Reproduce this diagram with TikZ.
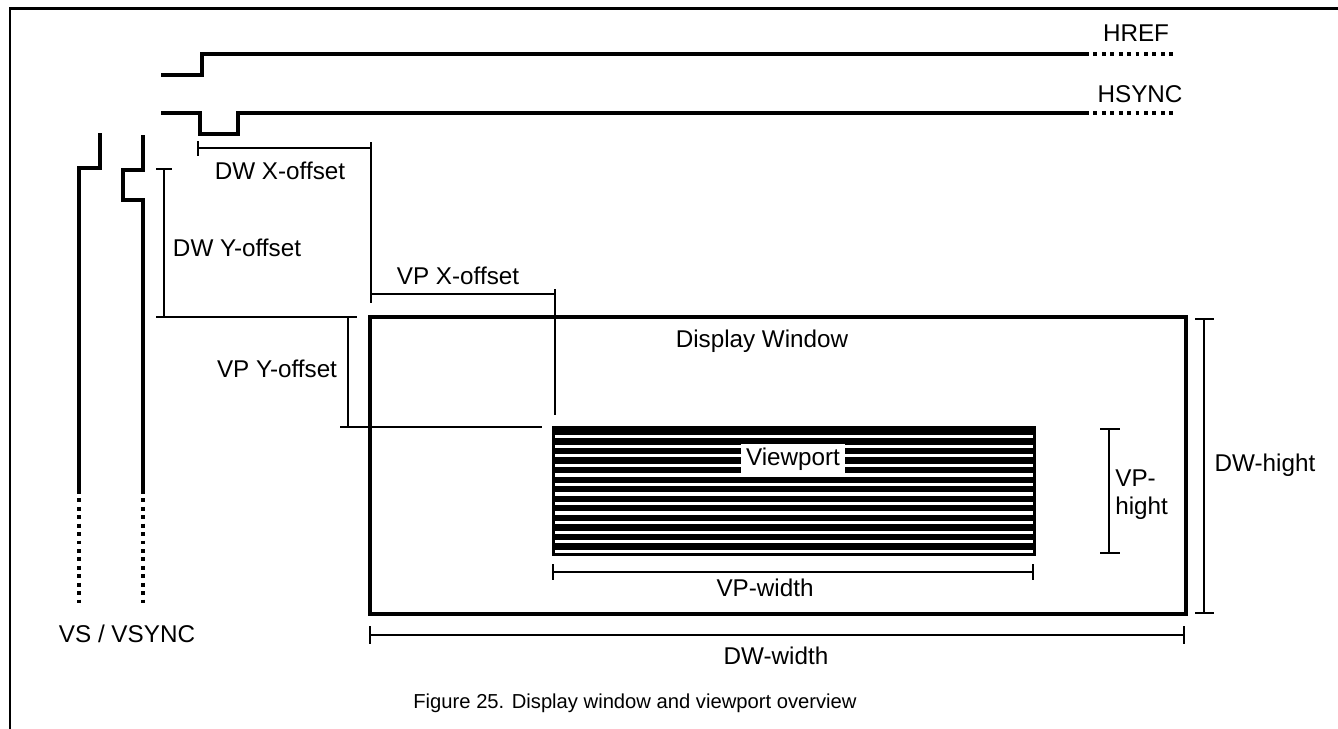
\documentclass[tikz,border=0pt]{standalone}
\usepackage{fontspec}
\setmainfont{Liberation Sans}
\begin{document}
\begin{tikzpicture}[x=0.02cm,y=-0.02cm,
  wave/.style={line width=1.9pt},
  dotline/.style={line width=1.9pt, dash pattern=on 2.2pt off 2.6pt},
  dimline/.style={line width=1.0pt},
  boxline/.style={line width=1.8pt},
  lbl/.style={font=\fontsize{13.8}{16}\selectfont, inner sep=0pt},
  captext/.style={font=\fontsize{11.5}{14}\selectfont, inner sep=0pt}]
\useasboundingbox (0,0) rectangle (1338,728);
\fill[white] (0,0) rectangle (1338,728);
% outer frame
\coordinate (frTR) at (1360,8);
\coordinate (frTL) at (10,8);
\coordinate (frBL) at (10,750);
\draw[line width=1.7pt] (frTR) -- (frTL) -- (frBL);
% HREF
\coordinate (hr0) at (161,75);
\coordinate (hr1) at (202,75);
\coordinate (hr2) at (202,54);
\coordinate (hr3) at (1085,54);
\coordinate (hr4) at (1175,54);
\draw[wave] (hr0) -- (hr1) -- (hr2) -- (hr3);
\draw[dotline] (hr3) -- (hr4);
\node[lbl] (href) at (1136,33) {HREF};
% HSYNC
\coordinate (hs0) at (161,113);
\coordinate (hs1) at (200,113);
\coordinate (hs2) at (200,134);
\coordinate (hs3) at (238,134);
\coordinate (hs4) at (238,113);
\coordinate (hs5) at (1085,113);
\coordinate (hs6) at (1175,113);
\draw[wave] (hs0) -- (hs1) -- (hs2) -- (hs3) -- (hs4) -- (hs5);
\draw[dotline] (hs5) -- (hs6);
\node[lbl] (hsync) at (1140,94) {HSYNC};
% VS
\coordinate (vs0) at (100,133);
\coordinate (vs1) at (100,168);
\coordinate (vs2) at (79,168);
\coordinate (vs3) at (79,490);
\coordinate (vs4) at (79,603);
\draw[wave] (vs0) -- (vs1) -- (vs2) -- (vs3);
\draw[dotline] (vs3) -- (vs4);
% VSYNC
\coordinate (vy0) at (143,135);
\coordinate (vy1) at (143,170);
\coordinate (vy2) at (123,170);
\coordinate (vy3) at (123,200);
\coordinate (vy4) at (143,200);
\coordinate (vy5) at (143,490);
\coordinate (vy6) at (143,603);
\draw[wave] (vy0) -- (vy1) -- (vy2) -- (vy3) -- (vy4) -- (vy5);
\draw[dotline] (vy5) -- (vy6);
\node[lbl] (vslbl) at (127,634) {VS / VSYNC};
% DW X-offset
\coordinate (dxA) at (198,148);
\coordinate (dxB) at (371,148);
\coordinate (dxAt) at (198,141);
\coordinate (dxAb) at (198,156);
\coordinate (dxBt) at (371,142);
\coordinate (dxBb) at (371,303);
\draw[dimline] (dxA) -- (dxB);
\draw[dimline] (dxAt) -- (dxAb);
\draw[dimline] (dxBt) -- (dxBb);
\node[lbl] (dwx) at (280,171) {DW X-offset};
% DW Y-offset
\coordinate (dyA) at (164,169);
\coordinate (dyB) at (164,317);
\coordinate (dyAl) at (156,169);
\coordinate (dyAr) at (172,169);
\coordinate (dyL) at (156,317);
\coordinate (dyR) at (357,317);
\draw[dimline] (dyA) -- (dyB);
\draw[dimline] (dyAl) -- (dyAr);
\draw[dimline] (dyL) -- (dyR);
\node[lbl] (dwy) at (237,248) {DW Y-offset};
% VP Y-offset
\coordinate (vpyA) at (348,317);
\coordinate (vpyB) at (348,427);
\coordinate (vpyL) at (340,427);
\coordinate (vpyR) at (542,427);
\draw[dimline] (vpyA) -- (vpyB);
\draw[dimline] (vpyL) -- (vpyR);
\node[lbl] (vpy) at (277,369) {VP Y-offset};
% VP X-offset
\coordinate (vpxA) at (371,294);
\coordinate (vpxB) at (555,294);
\coordinate (vpxBt) at (555,289);
\coordinate (vpxBb) at (555,415);
\draw[dimline] (vpxA) -- (vpxB);
\draw[dimline] (vpxBt) -- (vpxBb);
\node[lbl] (vpx) at (458,276) {VP X-offset};
% Display window
\coordinate (dwTL) at (370,317);
\coordinate (dwBR) at (1186,614);
\draw[boxline] (dwTL) rectangle (dwBR);
\node[lbl] (dwin) at (762,341) {Display Window};
% Viewport
\coordinate (vpTL) at (552,426);
\coordinate (vpBR) at (1036,556);
\fill[black] (vpTL) rectangle (vpBR);
\foreach \k in {0,...,12}{
  \fill[white] (555,{435+9.55*\k}) rectangle (1033,{438.3+9.55*\k});
}
\node[lbl, fill=white, inner xsep=3pt, inner ysep=2pt] (vport) at (793,459) {Viewport};
% VP-hight
\coordinate (vhA) at (1109,429);
\coordinate (vhB) at (1109,553);
\coordinate (vhAl) at (1100,429);
\coordinate (vhAr) at (1120,429);
\coordinate (vhBl) at (1100,553);
\coordinate (vhBr) at (1120,553);
\draw[dimline] (vhA) -- (vhB);
\draw[dimline] (vhAl) -- (vhAr);
\draw[dimline] (vhBl) -- (vhBr);
\node[lbl, anchor=west, align=left] (vph) at (1115,495) {VP-\\hight};
% DW-hight
\coordinate (dhA) at (1204,319);
\coordinate (dhB) at (1204,613);
\coordinate (dhAl) at (1195,319);
\coordinate (dhAr) at (1214,319);
\coordinate (dhBl) at (1195,613);
\coordinate (dhBr) at (1214,613);
\draw[dimline] (dhA) -- (dhB);
\draw[dimline] (dhAl) -- (dhAr);
\draw[dimline] (dhBl) -- (dhBr);
\node[lbl] (dwh) at (1265,465) {DW-hight};
% VP-width
\coordinate (vwA) at (553,572);
\coordinate (vwB) at (1033,572);
\coordinate (vwAt) at (553,564);
\coordinate (vwAb) at (553,580);
\coordinate (vwBt) at (1033,564);
\coordinate (vwBb) at (1033,580);
\draw[dimline] (vwA) -- (vwB);
\draw[dimline] (vwAt) -- (vwAb);
\draw[dimline] (vwBt) -- (vwBb);
\node[lbl] (vpw) at (765,588) {VP-width};
% DW-width
\coordinate (dwA) at (370,635);
\coordinate (dwB) at (1184,635);
\coordinate (dwAt) at (370,626);
\coordinate (dwAb) at (370,644);
\coordinate (dwBt) at (1184,626);
\coordinate (dwBb) at (1184,644);
\draw[dimline] (dwA) -- (dwB);
\draw[dimline] (dwAt) -- (dwAb);
\draw[dimline] (dwBt) -- (dwBb);
\node[lbl] (dww) at (776,656) {DW-width};
% caption
\node[captext] (caption) at (635,703) {Figure 25. Display window and viewport overview};
\end{tikzpicture}
\end{document}
